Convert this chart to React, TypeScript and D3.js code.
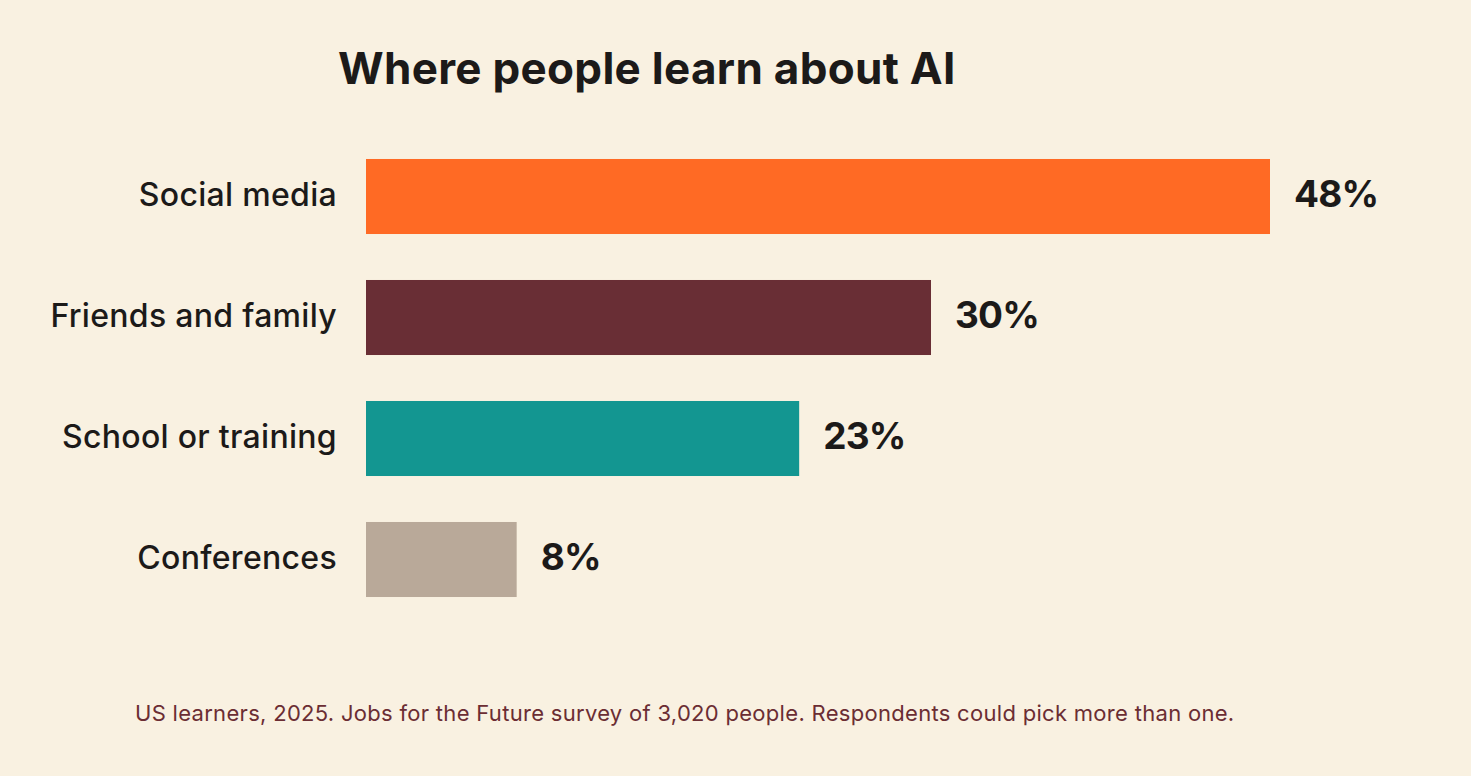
import { useEffect, useRef } from 'react';
import * as d3 from 'd3';

const categories = ['Social media', 'Friends and family', 'School or training', 'Conferences'];
const shares = [48, 30, 23, 8];
const barColors = ['#FF6A24', '#692E35', '#139691', '#B9A999'];

const W = 1471;
const H = 776;
const BG = '#F9F1E1';
const FONT = 'Inter, "Open Sans", sans-serif';

export default function App() {
  const svgRef = useRef<SVGSVGElement>(null);

  useEffect(() => {
    const svg = d3.select(svgRef.current);
    svg.selectAll('*').remove();

    const x = d3.scaleLinear().domain([0, 48]).range([366, 1270]);
    const y = d3.scaleBand<string>().domain(categories).range([136, 620]).paddingInner(0.38).paddingOuter(0.19);

    svg.append('rect').attr('width', W).attr('height', H).attr('fill', BG);

    svg.append('text')
      .attr('x', 338).attr('y', 84)
      .attr('font-family', FONT).attr('font-size', 44).attr('font-weight', 700)
      .attr('letter-spacing', '0.3px')
      .attr('fill', '#1C1A19')
      .text('Where people learn about AI');

    const rows = svg.append('g');
    const data = categories.map((c, i) => ({ c, v: shares[i], color: barColors[i] }));

    rows.selectAll('rect.bar').data(data).join('rect')
      .attr('class', 'bar')
      .attr('x', x(0)).attr('y', d => y(d.c)!)
      .attr('width', d => x(d.v) - x(0)).attr('height', y.bandwidth())
      .attr('fill', d => d.color);

    rows.selectAll('text.cat').data(data).join('text')
      .attr('class', 'cat')
      .attr('x', 337).attr('y', d => y(d.c)! + y.bandwidth() / 2)
      .attr('dy', '0.3em').attr('text-anchor', 'end')
      .attr('font-family', FONT).attr('font-size', 32).attr('font-weight', 500)
      .attr('letter-spacing', '0.3px')
      .attr('fill', '#1C1A19')
      .text(d => d.c);

    rows.selectAll('text.val').data(data).join('text')
      .attr('class', 'val')
      .attr('x', d => x(d.v) + 24).attr('y', d => y(d.c)! + y.bandwidth() / 2)
      .attr('dy', '0.28em')
      .attr('font-family', FONT).attr('font-size', 37).attr('font-weight', 700)
      .attr('letter-spacing', '-0.8px')
      .attr('fill', '#1C1A19')
      .text(d => `${d.v}%`);

    svg.append('text')
      .attr('x', 135).attr('y', 721)
      .attr('font-family', FONT).attr('font-size', 22).attr('font-weight', 400)
      .attr('letter-spacing', '0.3px')
      .attr('fill', '#6B2D33')
      .text('US learners, 2025. Jobs for the Future survey of 3,020 people. Respondents could pick more than one.');
  }, []);

  return (
    <div style={{ position: 'fixed', left: 0, top: 0, width: W, height: H, background: BG }}>
      <svg ref={svgRef} width={W} height={H} style={{ display: 'block' }} />
    </div>
  );
}
